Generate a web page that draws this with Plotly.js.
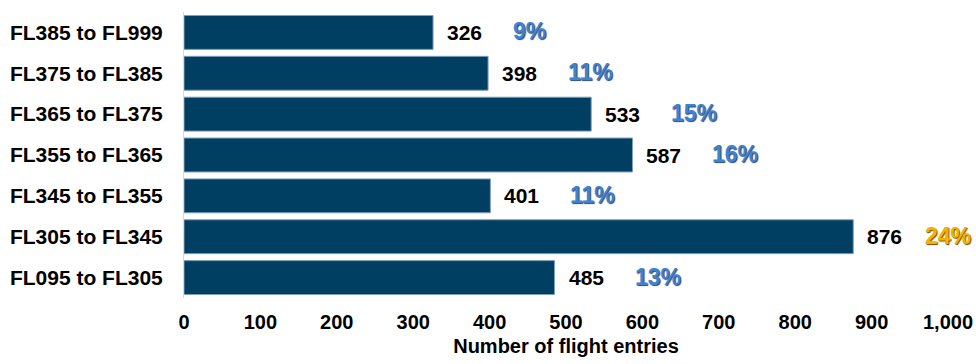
<!DOCTYPE html>
<html><head><meta charset="utf-8">
<script src="https://cdn.plot.ly/plotly-3.0.1.min.js"></script>
<style>html,body{margin:0;padding:0;background:#fff;}#chart{width:976px;height:364px;}</style>
</head><body><div id="chart"></div>
<script>
const categories = ["FL385 to FL999","FL375 to FL385","FL365 to FL375","FL355 to FL365","FL345 to FL355","FL305 to FL345","FL095 to FL305"];
const flightEntries = [326, 398, 533, 587, 401, 876, 485];
const shareLabels = ["9%","11%","15%","16%","11%","24%","13%"];
const highlightIndex = 5;
const xTickVals = [0,100,200,300,400,500,600,700,800,900,1000];
const xTickText = ["0","100","200","300","400","500","600","700","800","900","1,000"];

const FONT = 'Liberation Sans, Arial, sans-serif';
const barColor = "#003f62";
const annotations = [];
categories.forEach((c,i)=>{
  annotations.push({x: flightEntries[i], y: c, xref:'x', yref:'y', text: String(flightEntries[i]),
    showarrow:false, xanchor:'left', xshift:12,
    font:{family:FONT, size:21, color:'#000', weight:700}});
  const hi = i===highlightIndex;
  annotations.push({x: flightEntries[i], y: c, xref:'x', yref:'y', text: shareLabels[i],
    showarrow:false, xanchor:'left', xshift: hi?70:78, yshift:1,
    font:{family:FONT, size:23, color: hi?'#f2b200':'#3f82d0', weight:700,
      shadow: hi?'1px 1px 1px #6a4a00':'1px 1px 1px #2a4a70'}});
});

const data = [{
  type:'bar', orientation:'h', x: flightEntries, y: categories,
  marker:{color:barColor, line:{color:'#7fa0b8', width:1}},
  hoverinfo:'none'
}];
const layout = {
  width:976, height:364,
  margin:{l:184, r:28, t:12, b:66},
  paper_bgcolor:'#fff', plot_bgcolor:'#fff',
  bargap:0.17,
  showlegend:false,
  xaxis:{range:[0,1000], tickvals:xTickVals, ticktext:xTickText, showgrid:false, zeroline:false,
    showline:false, ticks:'', ticklabelstandoff:10,
    tickfont:{family:FONT, size:20, color:'#000', weight:700},
    title:{text:'Number of flight entries', standoff:6,
      font:{family:FONT, size:20, color:'#000', weight:700}}},
  yaxis:{categoryorder:'array', categoryarray:categories.slice().reverse(), autorange:true,
    showgrid:false, zeroline:false, showline:true, linecolor:'#d9d9d9', linewidth:1, ticks:'', ticklabelstandoff:16,
    tickfont:{family:FONT, size:21, color:'#000', weight:700}},
  annotations: annotations
};
Plotly.newPlot('chart', data, layout, {staticPlot:true, displayModeBar:false});
</script></body></html>
